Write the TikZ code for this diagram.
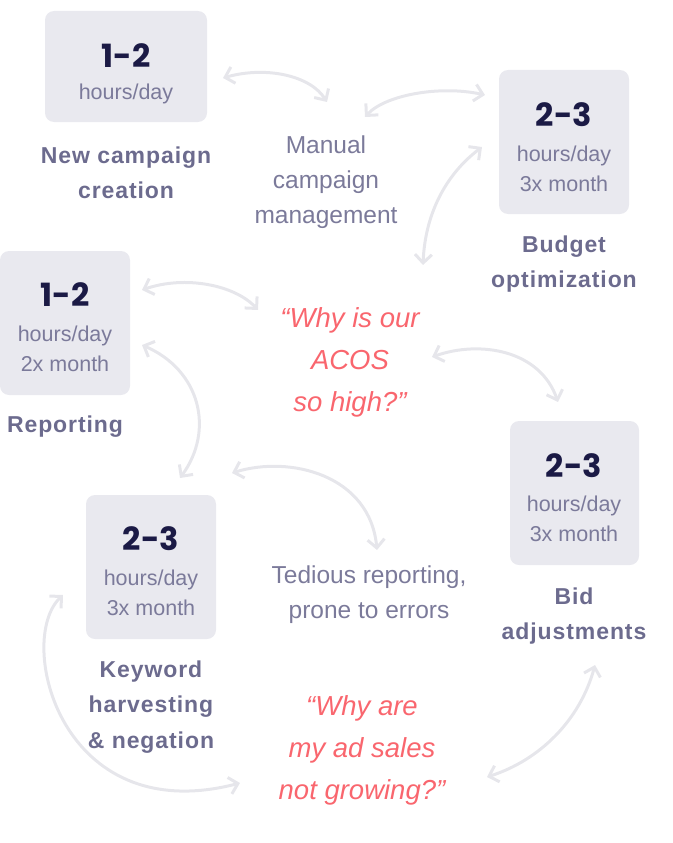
\documentclass[tikz,border=0pt]{standalone}
\usepackage{fontspec}
\setmainfont{Liberation Sans}
\newfontfamily\numfont{Poppins}
\newfontfamily\labfont{Liberation Sans}[LetterSpace=4]
\usetikzlibrary{arrows.meta}
\definecolor{boxfill}{HTML}{E9E9EF}
\definecolor{numcol}{HTML}{1B1A45}
\definecolor{subcol}{HTML}{7B7A9A}
\definecolor{labcol}{HTML}{6C6B8E}
\definecolor{redq}{HTML}{F9666E}
\definecolor{arrcol}{HTML}{E6E6EB}
\tikzset{
  tbox/.style={fill=boxfill, rounded corners=9pt, inner sep=0pt},
  num/.style={font=\numfont\bfseries\fontsize{32}{32}\selectfont, text=numcol, inner sep=0pt, yshift=-1pt},
  sub/.style={font=\fontsize{21.5}{30}\selectfont, text=subcol, align=center, inner sep=0pt, yshift=-3pt},
  lab/.style={font=\labfont\bfseries\fontsize{23}{35.5}\selectfont, text=labcol, align=center, inner sep=0pt, yshift=-3pt},
  body/.style={font=\fontsize{24.5}{35}\selectfont, text=subcol, align=center, inner sep=0pt, yshift=-3pt},
  quest/.style={font=\itshape\fontsize{27.5}{42}\selectfont, text=redq, align=center, inner sep=0pt, yshift=-3pt},
  arr/.style={draw=arrcol, line width=3pt, line cap=round, {Straight Barb[angle=90:12pt,line width=3pt]}-{Straight Barb[angle=90:12pt,line width=3pt]}}
}
\begin{document}
\begin{tikzpicture}[x=1pt,y=-1pt]
\useasboundingbox (0,0) rectangle (672,843);
% boxes
\path[tbox] (45,11) rectangle (207,122);
\path[tbox] (499,70) rectangle (629,214);
\path[tbox] (0,251) rectangle (130,395);
\path[tbox] (510,421) rectangle (639,565);
\path[tbox] (86,495) rectangle (216,639);
% box 1
\node[num] (n1) at (126,55) {1-2};
\node[sub] (s1) at (126,91) {hours/day};
\node[lab] (l1) at (126,170) {New campaign\\creation};
% box 2
\node[num] (n2) at (564,114) {2-3};
\node[sub] (s2) at (564,166) {hours/day\\3x month};
\node[lab] (l2) at (564,261) {Budget\\optimization};
% box 3
\node[num] (n3) at (65,294) {1-2};
\node[sub] (s3) at (65,346) {hours/day\\2x month};
\node[lab] (l3) at (65,424) {Reporting};
% box 4
\node[num] (n4) at (574,465) {2-3};
\node[sub] (s4) at (574,516) {hours/day\\3x month};
\node[lab] (l4) at (574,613) {Bid\\adjustments};
% box 5
\node[num] (n5) at (151,538) {2-3};
\node[sub] (s5) at (151,590) {hours/day\\3x month};
\node[lab] (l5) at (151,704) {Keyword\\harvesting\\\& negation};
% texts
\node[body] (man) at (326,179) {Manual\\campaign\\management};
\node[quest] (acos) at (350,359) {“Why is our\\ACOS\\so high?”};
\node[body] (ted) at (369,592) {Tedious reporting,\\prone to errors};
\node[quest] (sales) at (362,747) {“Why are\\my ad sales\\not growing?”};
% arrow end coordinates
\coordinate (a1s) at (223,78);  \coordinate (a1e) at (327,102);
\coordinate (a2s) at (365,117); \coordinate (a2e) at (485,95);
\coordinate (a3s) at (482,147); \coordinate (a3e) at (423,265);
\coordinate (a4s) at (142,290); \coordinate (a4e) at (258,310);
\coordinate (a5s) at (142,345); \coordinate (a5e) at (180,478);
\coordinate (a6s) at (432,357); \coordinate (a6e) at (558,402);
\coordinate (a7s) at (232,473); \coordinate (a7e) at (377,550);
\coordinate (a8s) at (63,595);  \coordinate (a8e) at (240,783);
\coordinate (a9s) at (487,777); \coordinate (a9e) at (595,665);
% arrows
\draw[arr] (a1s) .. controls (265,66) and (310,75) .. (a1e);
\draw[arr] (a2s) .. controls (385,95) and (440,85) .. (a2e);
\draw[arr] (a3s) .. controls (445,175) and (425,215) .. (a3e);
\draw[arr] (a4s) .. controls (185,275) and (235,285) .. (a4e);
\draw[arr] (a5s) .. controls (200,370) and (215,430) .. (a5e);
\draw[arr] (a6s) .. controls (480,340) and (540,350) .. (a6e);
\draw[arr] (a7s) .. controls (290,455) and (370,475) .. (a7e);
\draw[arr] (a8s) .. controls (15,640) and (60,830) .. (a8e);
\draw[arr] (a9s) .. controls (540,760) and (580,720) .. (a9e);
\end{tikzpicture}
\end{document}
